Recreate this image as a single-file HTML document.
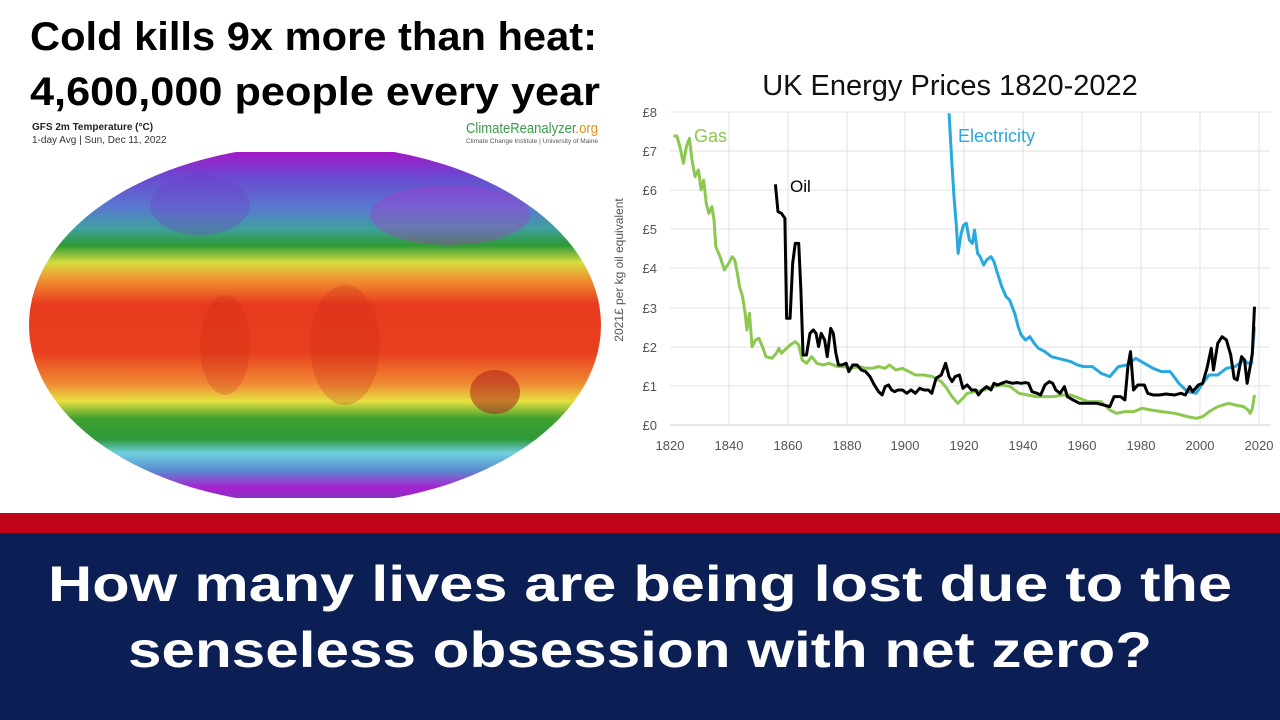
<!DOCTYPE html>
<html><head><meta charset="utf-8"><style>
html,body{margin:0;padding:0;background:#fff;}
svg{display:block;}
text{font-family:"Liberation Sans",sans-serif;}
</style></head><body>
<svg width="1280" height="720" viewBox="0 0 1280 720" xmlns="http://www.w3.org/2000/svg">
<defs>
<linearGradient id="mg" x1="0" y1="152" x2="0" y2="498" gradientUnits="userSpaceOnUse">
<stop offset="0" stop-color="#a418c8"/>
<stop offset="0.07" stop-color="#6a48d0"/>
<stop offset="0.16" stop-color="#5a78d0"/>
<stop offset="0.22" stop-color="#40a0a0"/>
<stop offset="0.27" stop-color="#2e9a36"/>
<stop offset="0.32" stop-color="#d8dc40"/>
<stop offset="0.37" stop-color="#f09030"/>
<stop offset="0.44" stop-color="#e83a1e"/>
<stop offset="0.58" stop-color="#e8401e"/>
<stop offset="0.67" stop-color="#f08a34"/>
<stop offset="0.72" stop-color="#e6e040"/>
<stop offset="0.77" stop-color="#40a030"/>
<stop offset="0.83" stop-color="#2e9a3a"/>
<stop offset="0.87" stop-color="#70d0e0"/>
<stop offset="0.92" stop-color="#5a8cd0"/>
<stop offset="0.97" stop-color="#a820d0"/>
<stop offset="1" stop-color="#8a30c0"/>
</linearGradient>
<clipPath id="mc"><rect x="0" y="152" width="640" height="346"/></clipPath>
</defs>
<rect width="1280" height="720" fill="#fff"/>
<text x="30" y="50" font-size="40" font-weight="bold" textLength="567" lengthAdjust="spacingAndGlyphs">Cold kills 9x more than heat:</text>
<text x="30" y="105" font-size="40" font-weight="bold" textLength="570" lengthAdjust="spacingAndGlyphs">4,600,000 people every year</text>
<text x="32" y="130" font-size="10" font-weight="bold" fill="#222">GFS 2m Temperature (°C)</text>
<text x="32" y="143" font-size="10" fill="#333">1-day Avg | Sun, Dec 11, 2022</text>
<text x="466" y="133" font-size="15" fill="#3a9a4a" textLength="132" lengthAdjust="spacingAndGlyphs">ClimateReanalyzer<tspan fill="#e0901a">.org</tspan></text>
<text x="466" y="143" font-size="6" fill="#555" textLength="132" lengthAdjust="spacingAndGlyphs">Climate Change Institute | University of Maine</text>
<g clip-path="url(#mc)">
<ellipse cx="315" cy="325" rx="286" ry="180" fill="url(#mg)"/>
<ellipse cx="495" cy="392" rx="25" ry="22" fill="#a81818" opacity="0.5"/>
<ellipse cx="345" cy="345" rx="35" ry="60" fill="#c82818" opacity="0.25"/>
<ellipse cx="225" cy="345" rx="25" ry="50" fill="#c82818" opacity="0.25"/>
<ellipse cx="450" cy="215" rx="80" ry="30" fill="#b030d0" opacity="0.35"/>
<ellipse cx="200" cy="205" rx="50" ry="30" fill="#7040c8" opacity="0.35"/>
</g>
<!-- chart -->
<text x="950" y="95" font-size="29" text-anchor="middle" fill="#111">UK Energy Prices 1820-2022</text>
<g stroke="#e2e2e2" stroke-width="1">
<line x1="670" y1="112" x2="1270" y2="112"/><line x1="670" y1="151" x2="1270" y2="151"/>
<line x1="670" y1="190" x2="1270" y2="190"/><line x1="670" y1="229" x2="1270" y2="229"/>
<line x1="670" y1="268" x2="1270" y2="268"/><line x1="670" y1="308" x2="1270" y2="308"/>
<line x1="670" y1="347" x2="1270" y2="347"/><line x1="670" y1="386" x2="1270" y2="386"/>
<line x1="729" y1="112" x2="729" y2="425"/><line x1="788" y1="112" x2="788" y2="425"/>
<line x1="847" y1="112" x2="847" y2="425"/><line x1="905" y1="112" x2="905" y2="425"/>
<line x1="964" y1="112" x2="964" y2="425"/><line x1="1023" y1="112" x2="1023" y2="425"/>
<line x1="1082" y1="112" x2="1082" y2="425"/><line x1="1141" y1="112" x2="1141" y2="425"/>
<line x1="1200" y1="112" x2="1200" y2="425"/><line x1="1259" y1="112" x2="1259" y2="425"/>
</g>
<line x1="670" y1="425" x2="1270" y2="425" stroke="#cfcfcf"/>
<g font-size="13" fill="#555" text-anchor="end">
<text x="657" y="117">£8</text><text x="657" y="156">£7</text><text x="657" y="195">£6</text>
<text x="657" y="234">£5</text><text x="657" y="273">£4</text><text x="657" y="313">£3</text>
<text x="657" y="352">£2</text><text x="657" y="391">£1</text><text x="657" y="430">£0</text>
</g>
<g font-size="13" fill="#555" text-anchor="middle">
<text x="670" y="450">1820</text><text x="729" y="450">1840</text><text x="788" y="450">1860</text>
<text x="847" y="450">1880</text><text x="905" y="450">1900</text><text x="964" y="450">1920</text>
<text x="1023" y="450">1940</text><text x="1082" y="450">1960</text><text x="1141" y="450">1980</text>
<text x="1200" y="450">2000</text><text x="1259" y="450">2020</text>
</g>
<text transform="translate(623,270) rotate(-90)" font-size="12" fill="#555" text-anchor="middle">2021£ per kg oil equivalent</text>
<g transform="translate(600,100) scale(0.432,0.3333)" fill="none" stroke-width="3" stroke-linejoin="round">
<polyline vector-effect="non-scaling-stroke" stroke="#8cc850" points="170,108 178,108 185,140 193,190 200,140 207,115 213,180 220,230 228,210 234,270 240,240 246,310 252,340 259,320 264,360 268,440 278,470 288,510 298,490 306,470 312,480 318,520 323,560 330,590 336,640 340,690 346,640 352,740 360,720 368,715 376,740 384,770 398,775 408,760 414,745 420,760 428,750 440,735 452,725 460,735 468,780 478,790 490,770 502,790 516,795 530,790 550,800 565,800 580,805 600,800 615,805 630,805 645,800 660,805 670,795 685,810 700,805 715,815 730,825 750,825 770,830 790,845 800,860 815,890 828,910 840,895 850,880 870,875 890,870 910,860 930,855 950,860 970,880 990,885 1010,890 1030,890 1050,890 1070,885 1090,885 1110,895 1130,905 1160,905 1180,930 1195,940 1215,935 1235,935 1255,925 1275,930 1300,935 1330,940 1360,950 1380,955 1395,950 1410,935 1430,920 1455,910 1470,915 1490,920 1500,930 1505,940 1510,925 1515,885"/>
<polyline vector-effect="non-scaling-stroke" stroke="#28a8e0" points="808,40 815,200 820,300 825,380 829,460 836,400 842,375 848,370 855,420 862,430 867,390 874,460 880,470 888,495 895,480 905,470 912,485 920,520 930,560 940,590 948,600 960,640 968,680 975,705 985,720 995,710 1005,730 1015,745 1030,755 1045,770 1060,775 1075,780 1090,785 1105,795 1120,800 1140,800 1160,820 1180,830 1190,815 1200,800 1220,795 1240,775 1260,790 1280,805 1300,815 1320,815 1340,850 1360,875 1380,880 1395,850 1410,825 1430,825 1450,805 1470,800 1490,780 1500,790 1508,790 1515,680"/>
<polyline vector-effect="non-scaling-stroke" stroke="#000" points="406,253 412,335 420,340 428,355 432,655 440,655 446,490 452,430 460,430 465,570 470,765 478,765 486,700 494,690 500,700 506,740 512,700 520,720 526,770 534,685 540,700 546,760 552,795 560,795 570,790 576,815 585,795 595,795 605,810 615,815 625,830 635,855 645,875 653,885 660,860 668,855 675,870 682,875 690,870 700,870 710,880 720,870 730,880 740,865 750,870 760,870 768,880 778,835 790,825 800,790 808,830 815,845 822,830 832,825 840,865 850,855 860,870 870,870 876,885 885,870 895,860 905,870 912,850 920,855 930,850 940,845 955,850 965,848 975,850 985,848 992,850 1000,875 1012,880 1020,885 1030,855 1040,845 1048,850 1055,870 1065,880 1075,860 1082,890 1095,900 1110,910 1130,910 1150,910 1165,915 1180,920 1190,890 1205,890 1215,900 1222,800 1228,755 1235,870 1245,855 1260,855 1268,880 1280,885 1295,885 1310,882 1330,885 1345,880 1355,885 1365,860 1372,875 1385,855 1395,850 1405,805 1415,745 1420,810 1430,730 1440,710 1450,720 1460,765 1468,835 1475,840 1485,770 1492,780 1498,850 1505,800 1510,760 1515,620"/>
</g>
<text x="694" y="142" font-size="18" fill="#8cc850">Gas</text>
<text x="958" y="142" font-size="18" fill="#28a8e0">Electricity</text>
<text x="790" y="192" font-size="17" fill="#000">Oil</text>
<!-- bottom banner -->
<rect x="0" y="513" width="1280" height="20" fill="#c20418"/>
<rect x="0" y="533" width="1280" height="187" fill="#0b1f55"/>
<text x="640" y="601" font-size="50" font-weight="bold" fill="#fff" text-anchor="middle" textLength="1184" lengthAdjust="spacingAndGlyphs">How many lives are being lost due to the</text>
<text x="640" y="667" font-size="50" font-weight="bold" fill="#fff" text-anchor="middle" textLength="1024" lengthAdjust="spacingAndGlyphs">senseless obsession with net zero?</text>
</svg>
</body></html>
